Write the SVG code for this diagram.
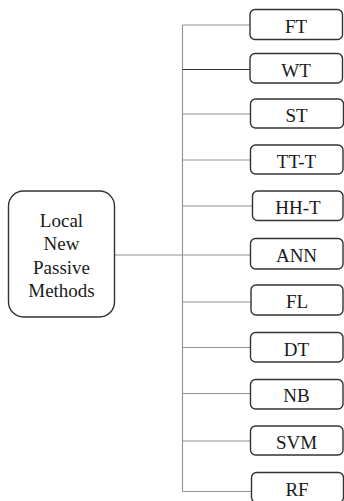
<svg xmlns="http://www.w3.org/2000/svg" width="344" height="501" viewBox="0 0 344 501">
  <style>
    .box { fill: #ffffff; stroke: #333333; stroke-width: 1.4; }
    .lbl { font-family: "Liberation Serif", "Times New Roman", serif; font-size: 19px; fill: #1a1a1a; text-anchor: middle; }
    .wire { fill: none; stroke: #909090; stroke-width: 1.1; }
    .wire.dark { stroke: #333333; }
  </style>
  <rect width="344" height="501" fill="#ffffff"/>

  <!-- connectors: trunk, root link and branches -->
  <g id="connectors">
    <path class="wire" d="M182.5 25 V491.5"/>
    <path class="wire" d="M114.5 255 H250.5"/>
    <path class="wire" d="M182.5 25 H250"/>
    <path class="wire dark" d="M182.5 69.5 H250"/>
    <path class="wire" d="M182.5 114 H250.5"/>
    <path class="wire" d="M182.5 160 H250.5"/>
    <path class="wire" d="M182.5 206 H252.5"/>
    <path class="wire" d="M182.5 302 H251"/>
    <path class="wire" d="M182.5 347.5 H250.5"/>
    <path class="wire" d="M182.5 393.5 H250.5"/>
    <path class="wire" d="M182.5 441 H250.5"/>
    <path class="wire" d="M182.5 491.5 H251.5"/>
  </g>

  <!-- root node -->
  <g id="root">
    <rect class="box" x="8.5" y="191" width="106" height="126" rx="15"/>
    <text class="lbl" x="61.5" y="226.5">Local</text>
    <text class="lbl" x="61.5" y="250">New</text>
    <text class="lbl" x="61.5" y="273.5">Passive</text>
    <text class="lbl" x="61.5" y="297">Methods</text>
  </g>

  <!-- method nodes -->
  <g id="ft"><rect class="box" x="250" y="9.5" width="92.5" height="30" rx="5"/><text class="lbl" x="296" y="32.5">FT</text></g>
  <g id="wt"><rect class="box" x="250" y="53.5" width="92.5" height="29.5" rx="5"/><text class="lbl" x="296" y="76.5">WT</text></g>
  <g id="st"><rect class="box" x="250.5" y="99" width="93" height="29" rx="5"/><text class="lbl" x="296.5" y="121.5">ST</text></g>
  <g id="tt-t"><rect class="box" x="250.5" y="145" width="92.5" height="29" rx="5"/><text class="lbl" x="296.5" y="167.5">TT-T</text></g>
  <g id="hh-t"><rect class="box" x="252.5" y="191" width="90.5" height="29.5" rx="5"/><text class="lbl" x="298" y="213.5">HH-T</text></g>
  <g id="ann"><rect class="box" x="250.5" y="238.5" width="92.5" height="30.5" rx="5"/><text class="lbl" x="296.5" y="261.5">ANN</text></g>
  <g id="fl"><rect class="box" x="251" y="285" width="92" height="30" rx="5"/><text class="lbl" x="297" y="308">FL</text></g>
  <g id="dt"><rect class="box" x="250.5" y="332.5" width="92.5" height="29.5" rx="5"/><text class="lbl" x="296.5" y="355.5">DT</text></g>
  <g id="nb"><rect class="box" x="250.5" y="379.5" width="92.5" height="29.5" rx="5"/><text class="lbl" x="296.5" y="402">NB</text></g>
  <g id="svm"><rect class="box" x="250.5" y="426" width="92.5" height="29" rx="5"/><text class="lbl" x="296.5" y="448.5">SVM</text></g>
  <g id="rf"><rect class="box" x="251.5" y="472.5" width="92" height="30" rx="5"/><text class="lbl" x="297" y="495.5">RF</text></g>
</svg>
